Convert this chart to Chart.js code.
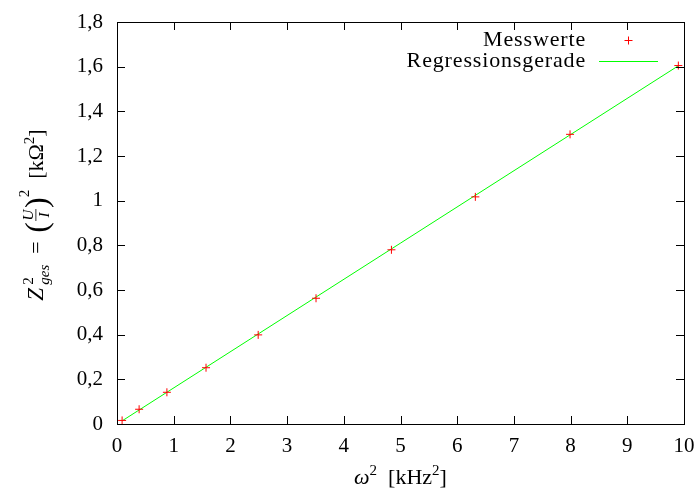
<!DOCTYPE html>
<html>
<head>
<meta charset="utf-8">
<script src="https://cdn.jsdelivr.net/npm/chart.js@4.4.1/dist/chart.umd.min.js"></script>
<style>
html, body { margin: 0; padding: 0; background: #fff; }
#wrap { width: 694px; height: 491px; }
</style>
</head>
<body>
<div id="wrap"><canvas id="chart"></canvas></div>
<script>
// measured values (omega^2 in kHz^2, Z^2 in kOhm^2)
const omega2 = [0.09, 0.39, 0.88, 1.57, 2.49, 3.51, 4.84, 6.32, 7.99, 9.90];
const zges2 = [0.016, 0.066, 0.142, 0.252, 0.399, 0.563, 0.780, 1.017, 1.297, 1.605];
// regression line end points
const fitX = [0.09, 9.90];
const fitY = [0.014, 1.604];
const xTickLabels = ['0', '1', '2', '3', '4', '5', '6', '7', '8', '9', '10'];
const yTickLabels = ['0', '0,2', '0,4', '0,6', '0,8', '1', '1,2', '1,4', '1,6', '1,8'];
const legendLabels = ['Messwerte', 'Regressionsgerade'];

const FONT = "'Liberation Serif', 'Times New Roman', 'DejaVu Serif', serif";

// draws a row of text pieces, centred on (cx, baseline by)
function drawPieces(ctx, cx, by, pieces) {
    let total = 0;
    pieces.forEach(p => {
        ctx.font = p.f;
        p.w = p.w0 !== undefined ? p.w0 : ctx.measureText(p.t).width;
        if (p.stack) {
            ctx.font = p.stack.f;
            p.w = Math.max(p.w, ctx.measureText(p.stack.t).width);
        }
        total += p.w;
    });
    let x = cx - total / 2;
    ctx.textAlign = 'left';
    ctx.textBaseline = 'alphabetic';
    pieces.forEach(p => {
        if (p.frac) {
            ctx.font = p.f;
            ctx.textAlign = 'center';
            ctx.fillText(p.frac[0], x + p.w / 2, by - 10);
            ctx.fillText(p.frac[1], x + p.w / 2, by + 6);
            ctx.fillRect(x + 1, by - 7.5, p.w - 2, 0.8);
            ctx.textAlign = 'left';
        } else {
            ctx.font = p.f;
            ctx.fillText(p.t, x, by + (p.dy || 0));
            if (p.stack) {
                ctx.font = p.stack.f;
                ctx.fillText(p.stack.t, x, by + p.stack.dy);
            }
        }
        x += p.w;
    });
}

const framePlugin = {
    id: 'frame',
    afterDraw(chart) {
        const ctx = chart.ctx;
        const a = chart.chartArea;
        const xs = chart.scales.x;
        const ys = chart.scales.y;
        ctx.save();
        ctx.strokeStyle = '#000';
        ctx.lineWidth = 1;
        ctx.strokeRect(Math.round(a.left) + 0.5, Math.round(a.top) + 0.5,
            Math.round(a.right - a.left), Math.round(a.bottom - a.top));
        ctx.beginPath();
        xs.ticks.forEach(t => {
            const px = Math.round(xs.getPixelForValue(t.value)) + 0.5;
            ctx.moveTo(px, a.bottom); ctx.lineTo(px, a.bottom - 8);
            ctx.moveTo(px, a.top); ctx.lineTo(px, a.top + 8);
        });
        ys.ticks.forEach(t => {
            const py = Math.round(ys.getPixelForValue(t.value)) + 0.5;
            ctx.moveTo(a.left, py); ctx.lineTo(a.left + 8, py);
            ctx.moveTo(a.right, py); ctx.lineTo(a.right - 8, py);
        });
        ctx.stroke();

        // legend
        ctx.fillStyle = '#000';
        ctx.font = '22px ' + FONT;
        ctx.letterSpacing = '0.85px';
        ctx.textAlign = 'right';
        ctx.textBaseline = 'alphabetic';
        ctx.fillText(legendLabels[0], 586, 46);
        ctx.fillText(legendLabels[1], 586, 67);
        ctx.letterSpacing = '0px';
        ctx.strokeStyle = '#ff0000';
        ctx.beginPath();
        ctx.moveTo(624.5, 40.5); ctx.lineTo(632.5, 40.5);
        ctx.moveTo(628.5, 36.5); ctx.lineTo(628.5, 44.5);
        ctx.stroke();
        ctx.strokeStyle = '#00ff00';
        ctx.beginPath();
        ctx.moveTo(599, 61.5); ctx.lineTo(658, 61.5);
        ctx.stroke();

        // x axis title
        ctx.fillStyle = '#000';
        drawPieces(ctx, (a.left + a.right) / 2, 484, [
            { t: 'ω', f: 'italic 22px ' + FONT },
            { t: '2', f: '15px ' + FONT, dy: -9 },
            { t: '  [kHz', f: '22px ' + FONT },
            { t: '2', f: '15px ' + FONT, dy: -9 },
            { t: ']', f: '22px ' + FONT }
        ]);

        // y axis title
        ctx.translate(43, 215);
        ctx.rotate(-Math.PI / 2);
        drawPieces(ctx, 0, 0, [
            { t: 'Z', f: 'italic 23px ' + FONT, w0: 16 },
            { t: '2', f: '15px ' + FONT, dy: -10, stack: { t: 'ges', f: 'italic 15px ' + FONT, dy: 6 } },
            { t: '=', f: '22px ' + FONT, w0: 32 },
            { t: '(', f: '32px ' + FONT, dy: 4 },
            { frac: ['U', 'I'], f: 'italic 15px ' + FONT, w0: 14 },
            { t: ')', f: '32px ' + FONT, dy: 4 },
            { t: '2', f: '15px ' + FONT, dy: -14 },
            { t: '  [kΩ', f: '22px ' + FONT },
            { t: '2', f: '15px ' + FONT, dy: -9 },
            { t: ']', f: '22px ' + FONT }
        ].map(p => (p.t === '=' ? Object.assign(p, { t: '  =' }) : p)));
        ctx.restore();
    }
};

new Chart(document.getElementById('chart'), {
    type: 'scatter',
    data: {
        datasets: [{
            label: legendLabels[0],
            data: omega2.map((x, i) => ({ x: x, y: zges2[i] })),
            pointStyle: 'cross',
            pointRadius: 4,
            pointBorderWidth: 1,
            borderColor: '#ff0000',
            backgroundColor: '#ff0000',
            order: 1
        }, {
            label: legendLabels[1],
            type: 'line',
            data: fitX.map((x, i) => ({ x: x, y: fitY[i] })),
            borderColor: '#00ff00',
            borderWidth: 1,
            pointRadius: 0,
            fill: false,
            order: 2
        }]
    },
    options: {
        responsive: true,
        maintainAspectRatio: false,
        animation: false,
        layout: { padding: { top: 22, right: 0, left: 0, bottom: 0 } },
        plugins: {
            legend: { display: false },
            tooltip: { enabled: false }
        },
        scales: {
            x: {
                type: 'linear',
                min: 0,
                max: 10,
                afterFit: s => { s.height = 67; s.paddingRight = 10; s.paddingLeft = 0; },
                afterBuildTicks: s => { s.ticks = xTickLabels.map((l, i) => ({ value: i })); },
                ticks: {
                    callback: (v, i) => xTickLabels[i],
                    color: '#000',
                    padding: 10,
                    maxRotation: 0,
                    font: { family: FONT, size: 21 }
                },
                grid: { display: false, drawTicks: false },
                border: { display: false }
            },
            y: {
                type: 'linear',
                min: 0,
                max: 1.8,
                afterFit: s => { s.width = 117; s.paddingTop = 0; s.paddingBottom = 0; },
                afterBuildTicks: s => { s.ticks = yTickLabels.map((l, i) => ({ value: i * 0.2 })); },
                ticks: {
                    callback: (v, i) => yTickLabels[i],
                    color: '#000',
                    padding: 14,
                    font: { family: FONT, size: 21 }
                },
                grid: { display: false, drawTicks: false },
                border: { display: false }
            }
        }
    },
    plugins: [framePlugin]
});
</script>
</body>
</html>
